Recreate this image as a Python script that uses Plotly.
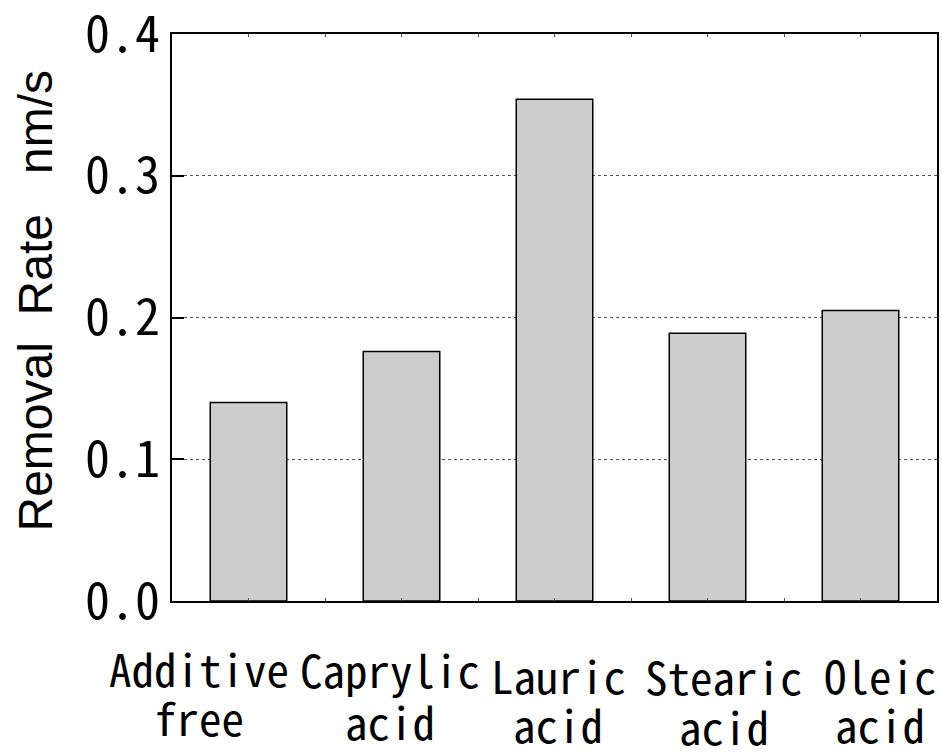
import plotly.graph_objects as go

categories = ["Additive free", "Caprylic acid", "Lauric acid", "Stearic acid", "Oleic acid"]
removal_rate = [0.140, 0.176, 0.354, 0.189, 0.205]
y_ticks = [0.0, 0.1, 0.2, 0.3, 0.4]
y_ticktext = ["0.0", "0.1", "0.2", "0.3", "0.4"]
y_title_words = ["Removal", "Rate", "nm/s"]

# label placement (style): horizontal offsets (px) from bar centre, vertical shifts
label_dx = [-49.5, -12, 3.5, 16.5, 19.5]
line1_dy = [-32, -33, -39, -40, -39]
line2_dy = [-81, -85, -88, -90, -88]

mono = "Noto Sans Mono CJK JP, Noto Sans Mono CJK SC, DejaVu Sans Mono, monospace"
NB = "\u00a0"

positions = list(range(len(categories)))

fig = go.Figure()
fig.add_trace(go.Bar(
    x=positions, y=removal_rate, width=0.5,
    marker=dict(color="#cccccc", line=dict(color="black", width=1.5)),
))

for i, name in enumerate(categories):
    w1, w2 = name.split(" ", 1)
    for word, dy in ((w1, line1_dy[i]), (w2, line2_dy[i])):
        fig.add_annotation(
            x=positions[i], y=0, xref="x", yref="y",
            text=word, showarrow=False,
            xanchor="center", yanchor="top",
            xshift=label_dx[i], yshift=dy,
            font=dict(family=mono, size=45, color="black"),
        )

# y-axis title as rotated text
fig.add_annotation(
    x=0, y=0.5, xref="paper", yref="paper",
    xshift=-137, yshift=16,
    text=y_title_words[0] + NB * 2 + y_title_words[1] + NB * 3 + y_title_words[2],
    textangle=-90, showarrow=False,
    xanchor="center", yanchor="middle",
    font=dict(family="Liberation Sans, Arial", size=48, color="black"),
)

fig.update_layout(
    width=942, height=753,
    margin=dict(l=172, r=5, t=34, b=152, autoexpand=False),
    plot_bgcolor="white", paper_bgcolor="white",
    showlegend=False,
)
fig.update_xaxes(
    range=[-0.5, len(categories) - 0.5],
    tickvals=positions, showticklabels=False, automargin=False,
    showline=True, linecolor="black", linewidth=2, mirror="ticks",
    ticks="inside", ticklen=3, tickcolor="#555555",
    minor=dict(dtick=0.5, tick0=-0.5, ticks="inside", ticklen=3, tickcolor="#555555"),
    showgrid=False, zeroline=False,
)
fig.update_yaxes(
    range=[0, 0.4001], automargin=False,
    tickvals=y_ticks, ticktext=y_ticktext, ticklabeloverflow="allow",
    tickfont=dict(family=mono, size=50, color="black"),
    showline=True, linecolor="black", linewidth=2, mirror=True,
    ticks="inside", ticklen=12, tickcolor="black", tickwidth=2,
    showgrid=True, gridcolor="#555555", griddash="dot", gridwidth=1,
    zeroline=False,
)

fig.write_html("out.html")
